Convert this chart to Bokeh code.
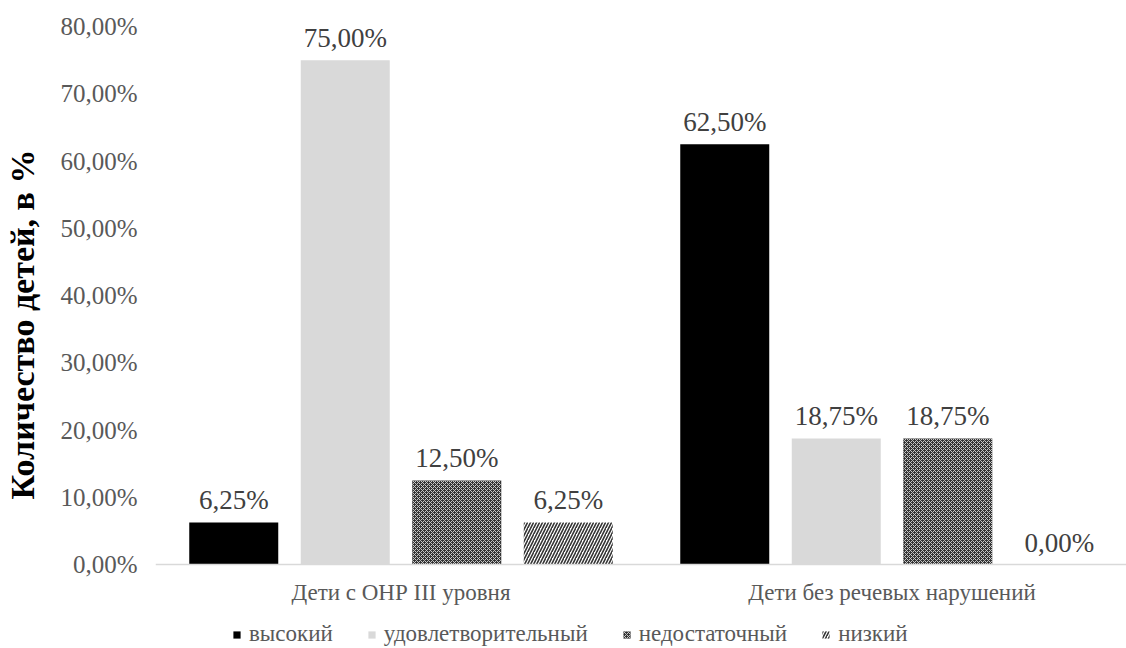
from bokeh.plotting import figure
from bokeh.models import Range1d, FixedTicker, Legend, LegendItem, Span
from bokeh.core.properties import value
from bokeh.embed import file_html
from bokeh.resources import INLINE

# ---- data ----
categories = ["Дети с ОНР III уровня", "Дети без речевых нарушений"]
levels = ["высокий", "удовлетворительный", "недостаточный", "низкий"]
vysokiy = [6.25, 62.50]
udovletvoritelny = [75.00, 18.75]
nedostatochny = [12.50, 18.75]
nizkiy = [6.25, 0.00]
y_ticks = [0, 10, 20, 30, 40, 50, 60, 70, 80]
y_tick_labels = ["0,00%", "10,00%", "20,00%", "30,00%", "40,00%",
                 "50,00%", "60,00%", "70,00%", "80,00%"]
y_title = "Количество детей, в %"

series = [vysokiy, udovletvoritelny, nedostatochny, nizkiy]

FONT = "Liberation Serif"
W, H = 1126, 648
LEFT = 155
CAT_PX = 491.0
ZERO_PX, TOP80_PX = 564, 26
PPU = (ZERO_PX - TOP80_PX) / 80.0
frame_w = W - LEFT

p = figure(width=W, height=H, output_backend="svg", toolbar_location=None,
           x_axis_location=None,
           x_range=Range1d(0, frame_w / CAT_PX),
           y_range=Range1d(-(H - ZERO_PX) / PPU, 80 + TOP80_PX / PPU),
           min_border=0, min_border_left=LEFT, min_border_right=0,
           min_border_top=0, min_border_bottom=0)
p.outline_line_color = None
p.grid.grid_line_color = None
p.background_fill_color = "white"
p.border_fill_color = "white"

styles = [
    dict(fill_color="black"),
    dict(fill_color="#d9d9d9"),
    dict(fill_color="#333333", hatch_pattern="x", hatch_color="#c8c8c8",
         hatch_scale=4, hatch_weight=1),
    dict(fill_color="white", hatch_pattern="/", hatch_color="#333333",
         hatch_scale=6, hatch_weight=1.6),
]

bar_w = 89 / CAT_PX
step = 111.5 / CAT_PX
items = []
for i, (vals, name, st) in enumerate(zip(series, levels, styles)):
    xs = [c + 0.5 + (i - 1.5) * step for c in range(len(categories))]
    r = p.vbar(x=xs, top=vals, bottom=0, width=bar_w, line_color=None, **st)
    items.append(LegendItem(label=name, renderers=[r]))
    txt = [("%.2f" % v).replace(".", ",") + "%" for v in vals]
    p.text(x=xs, y=vals, text=txt, text_align="center", text_baseline="bottom",
           y_offset=-7, text_font=value(FONT), text_font_size="27px",
           text_color="#404040")

# category axis (baseline + labels)
p.add_layout(Span(location=0, dimension="width", line_color="#d9d9d9",
                  line_width=1.5))
p.text(x=[c + 0.5 for c in range(len(categories))], y=[0] * len(categories),
       text=categories, text_align="center", text_baseline="top", y_offset=15,
       text_font=value(FONT), text_font_size="23px", text_color="#595959")

# value axis
p.yaxis.ticker = FixedTicker(ticks=y_ticks)
p.yaxis.major_label_overrides = {t: l for t, l in zip(y_ticks, y_tick_labels)}
p.yaxis.major_tick_line_color = None
p.yaxis.minor_tick_line_color = None
p.yaxis.axis_line_color = None
p.yaxis.major_label_text_font = FONT
p.yaxis.major_label_text_font_size = "25px"
p.yaxis.major_label_text_color = "#595959"
p.yaxis.major_label_standoff = 12
p.yaxis.axis_label = y_title
p.yaxis.axis_label_text_font = FONT
p.yaxis.axis_label_text_font_size = "34px"
p.yaxis.axis_label_text_font_style = "bold"
p.yaxis.axis_label_text_color = "black"
p.yaxis.axis_label_standoff = 16

legend = Legend(items=items, orientation="horizontal", location=(77, 1),
                glyph_width=9, glyph_height=9, label_standoff=8, spacing=34,
                padding=0, margin=0, border_line_color=None,
                background_fill_alpha=0, label_text_font=FONT,
                label_text_font_size="23px", label_text_color="#595959",
                label_height=23)
p.add_layout(legend)

open("out.html", "w").write(file_html(p, INLINE))
